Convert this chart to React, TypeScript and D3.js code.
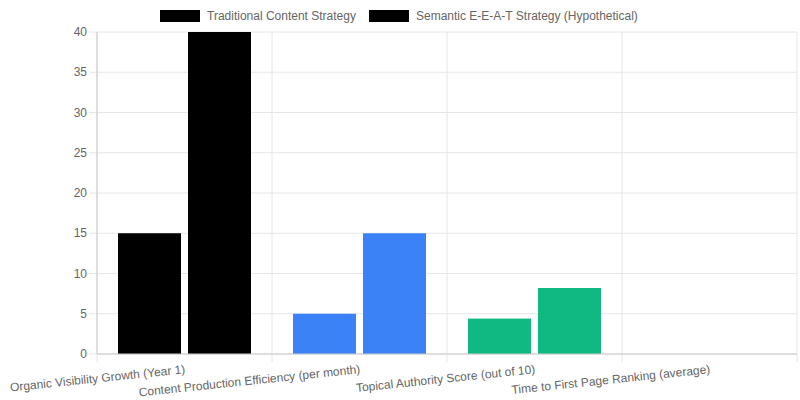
import React from "react";
import * as d3 from "d3";

const categories = [
  "Organic Visibility Growth (Year 1)",
  "Content Production Efficiency (per month)",
  "Topical Authority Score (out of 10)",
  "Time to First Page Ranking (average)",
];
const seriesNames = ["Traditional Content Strategy", "Semantic E-E-A-T Strategy (Hypothetical)"];
const traditional = [15, 5, 4.4, 0];
const semantic = [40, 15, 8.2, 0];
const barColors = ["#000000", "#3b82f6", "#10b981", "rgba(0,0,0,0)"];
const yTicks = [0, 5, 10, 15, 20, 25, 30, 35, 40];

export default function App() {
  const W = 800, H = 400;
  const left = 97, right = 797, top = 32, bottom = 354;
  const font = "Liberation Sans, Arial, Helvetica, sans-serif";
  const x0 = d3.scaleBand().domain(categories).range([left, right]).paddingInner(0).paddingOuter(0);
  const x1 = d3.scaleBand().domain(seriesNames).range([0, x0.bandwidth() * 0.8]);
  const y = d3.scaleLinear().domain([0, 40]).range([bottom, top]);
  const series = [traditional, semantic];
  const barW = x1.bandwidth() * 0.9;
  const gridX = categories.map((c) => x0(c)!).concat([right]);

  return (
    <svg width={W} height={H} style={{ position: "absolute", left: 0, top: 0 }} fontFamily={font}>
      <rect width={W} height={H} fill="#fff" />
      {/* legend */}
      <g fontSize={12} fill="#666">
        <rect x={160} y={10} width={40} height={12} fill="#000" />
        <text x={207} y={20}>{seriesNames[0]}</text>
        <rect x={369} y={10} width={40} height={12} fill="#000" />
        <text x={416} y={20}>{seriesNames[1]}</text>
      </g>
      {/* horizontal grid */}
      {yTicks.map((t) => (
        <g key={t}>
          <line x1={left - 8} x2={right} y1={y(t)} y2={y(t)} stroke="#e6e6e6" strokeWidth={1} />
          <text x={left - 10} y={y(t)} dy="0.35em" textAnchor="end" fontSize={12} fill="#666">{t}</text>
        </g>
      ))}
      {/* vertical grid */}
      {gridX.map((gx, i) => (
        <line key={i} x1={gx} x2={gx} y1={top} y2={bottom + 8} stroke="#e6e6e6" strokeWidth={1} />
      ))}
      {/* bars */}
      <g>
        {categories.map((c, ci) =>
          series.map((s, si) => {
            const cx = x0(c)! + x0.bandwidth() * 0.1 + x1(seriesNames[si])! + x1.bandwidth() / 2;
            const v = Math.min(s[ci], 40);
            return (
              <rect key={c + si} x={cx - barW / 2} y={y(v)} width={barW} height={bottom - y(v)} fill={barColors[ci]} />
            );
          })
        )}
      </g>
      {/* axes */}
      <line x1={left} x2={left} y1={top} y2={bottom} stroke="#c8c8c8" strokeWidth={1} />
      <line x1={left} x2={right} y1={bottom} y2={bottom} stroke="#c8c8c8" strokeWidth={1} />
      {/* x labels */}
      {categories.map((c) => {
        const tx = x0(c)! + x0.bandwidth() / 2;
        return (
          <text key={c} transform={`translate(${tx},${bottom + 9}) rotate(-6)`} textAnchor="end" dy="0.85em" fontSize={12} fill="#666">
            {c}
          </text>
        );
      })}
    </svg>
  );
}
